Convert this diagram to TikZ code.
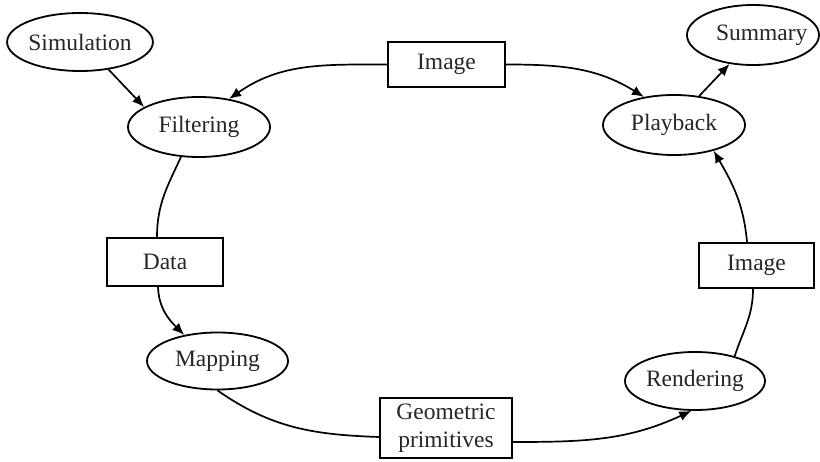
\documentclass[tikz,border=0pt]{standalone}
\usepackage{fontspec}
\setmainfont{Liberation Serif}
\usetikzlibrary{shapes.geometric,arrows.meta}
\tikzset{
  stage/.style={ellipse,draw,line width=1.8pt,inner sep=0pt,text=black!85},
  product/.style={rectangle,draw,line width=1.8pt,inner sep=0pt,align=center,text=black!85},
  flow/.style={line width=1.7pt},
  flowarrow/.style={flow,-{Latex[length=12pt,width=10pt]}},
}
\begin{document}
\begin{tikzpicture}[x=1pt,y=-1pt,font=\fontsize{23.5}{28}\selectfont]
\useasboundingbox (0,0) rectangle (820,462);
% pipeline stages (ellipses)
\node[stage,minimum width=144pt,minimum height=58pt] (sim)  at (80,42)    {Simulation};
\node[stage,minimum width=142pt,minimum height=60pt] (filt) at (199,127)  {Filtering};
\node[stage,minimum width=141pt,minimum height=57pt] (map)  at (217.5,361) {Mapping};
\node[stage,minimum width=140pt,minimum height=58pt] (rend) at (695,381)  {Rendering};
\node[stage,minimum width=142pt,minimum height=60pt] (play) at (674,125)  {Playback};
% the Summary label sits a little right of the ellipse centre
\node[stage,minimum width=132pt,minimum height=60pt] (summ) at (753,35)
  {\makebox[0pt][l]{\hspace*{-37pt}Summary}};
% intermediate products (boxes)
\node[product,minimum width=117pt,minimum height=45pt] (imgtop) at (446.5,64.5) {Image};
\node[product,minimum width=116pt,minimum height=48pt] (data)   at (165,262)    {Data};
\node[product,minimum width=115pt,minimum height=45pt] (imgr)   at (756.5,265.5) {Image};
\node[product,minimum width=132pt,minimum height=60pt] (geo)    at (446,428)    {Geometric\\primitives};
% connectors
\draw[flowarrow] (sim.-44) -- (filt.160);
\draw[flowarrow] (imgtop.west) to[out=180,in=35] (filt.43);
\draw[flowarrow] (imgtop.east) to[out=0,in=148] (play.137);
\draw[flowarrow] (play.49) -- (summ.-129);
\draw[flow] (filt.-121) to[out=245,in=90] ([xshift=-8pt]data.north);
\draw[flowarrow] ([xshift=-7pt]data.south) to[out=-88,in=135] (map.142);
\draw[flow] (map.-90) to[out=-35,in=178] ([yshift=-9pt]geo.west);
\draw[flowarrow] ([yshift=-14pt]geo.east) to[out=0,in=205] (rend.-97);
\draw[flow] (rend.32) to[out=72,in=-90] ([xshift=-3.5pt]imgr.south);
\draw[flowarrow] ([xshift=-9.5pt]imgr.north) to[out=95,in=-60] (play.-33);
\end{tikzpicture}
\end{document}
